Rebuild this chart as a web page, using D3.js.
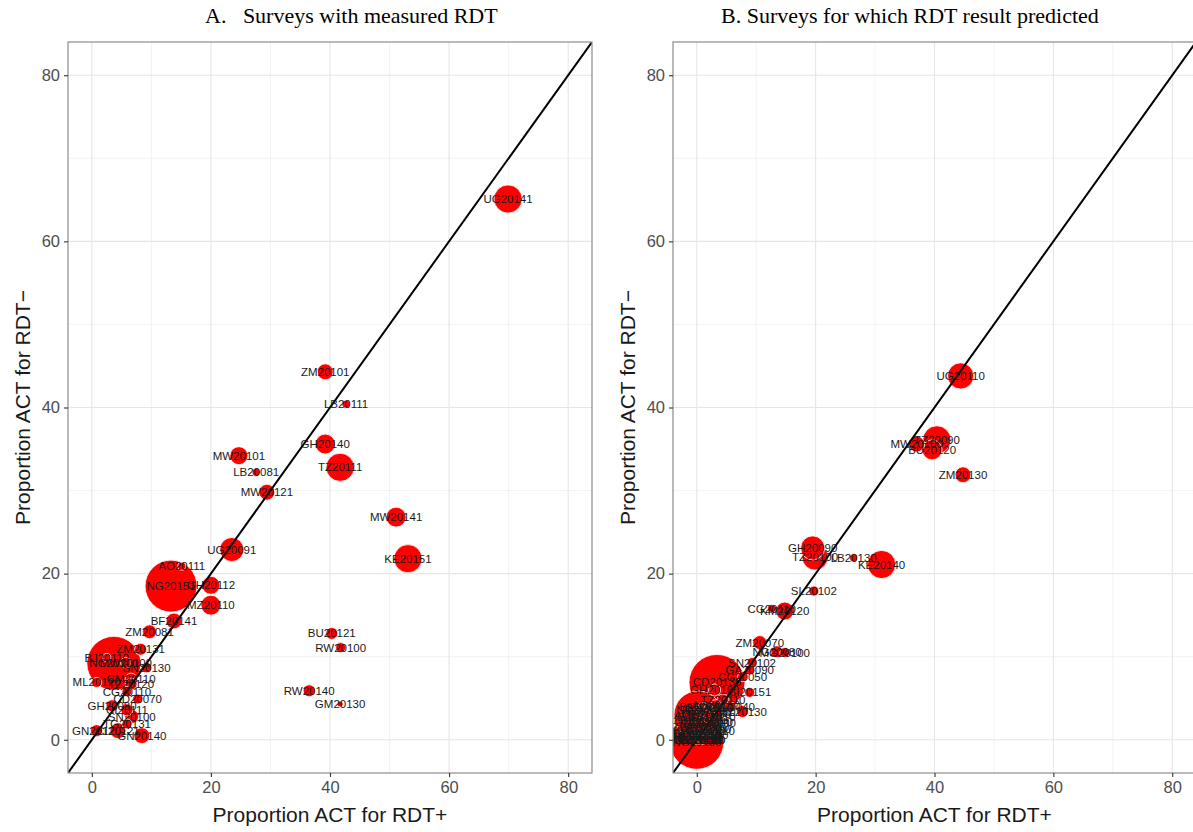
<!DOCTYPE html>
<html>
<head>
<meta charset="utf-8">
<script src="https://cdn.jsdelivr.net/npm/d3@7"></script>
<style>
  body { margin: 0; background: #fff; }
  svg { display: block; }
</style>
</head>
<body>
<div id="chart"></div>
<script>
// Panel A: surveys with measured RDT
const labelsA = ["UG20141","ZM20101","LB20111","GH20140","TZ20111","MW20101","LB20081","MW20121",
  "MW20141","KE20151","UG20091","AO20111","NG20151","GH20112","MZ20110","BF20141","ZM20081",
  "ZM20131","BU20121","RW20100","RW20140","GM20130","BJ20110","NG20100","MW20100","SN20130",
  "CM20110","ML20120","TZ20120","CG20110","CD20070","GH20080","CI20111","SN20100","TG20131",
  "GN20120","CI20121","GN20140"]
const xA = [69.9,39.2,42.7,39.2,41.7,24.7,27.6,29.4,51.1,53.1,23.5,15.1,13.3,20.0,20.0,13.8,9.7,
  8.2,40.3,41.8,36.5,41.7,2.5,3.7,5.7,9.2,6.6,0.8,6.6,5.9,7.7,3.4,5.9,6.7,5.9,0.8,4.4,8.4]
const yA = [65.1,44.3,40.4,35.6,32.8,34.2,32.2,29.8,26.8,21.8,22.9,20.9,18.5,18.6,16.2,14.3,13.0,
  10.9,12.8,11.1,5.9,4.3,9.9,9.2,9.3,8.7,7.3,6.9,6.7,5.8,4.9,4.1,3.6,2.8,1.9,1.1,1.1,0.5]
const nA = [22,7,1.8,11,22,9,1.8,7,11,22,16,1.8,75,9,11,7,5.4,4,4,2.8,4,1,1.8,81,3,3,4,2.8,4,
  2.8,2.8,4,4,5.4,2.8,4,7,7]

// Panel B: surveys for which RDT result predicted
const labelsB = ["UG20110","TZ20090","MW20100","BU20120","ZM20130","GH20090","TZ20100","LB20130",
  "KE20140","SL20102","CG20110","KM20120","ZM20070","NG20080","MG20100","SN20102","GA20090",
  "CG20050","CD20130","GH20100","CI20151","TZ20110","CM20040","MZ20130","AO20110","NG20130",
  "BJ20120","ET20110","GN20120","CD20140","ZW20100","SN20110","MW20120","LR20110","ML20130",
  "BI20100","TG20140","GM20130","CF20100","SZ20070","ER20100","KM20130","AO20150",
  "BF20100","GH20110","NE20120","MR20090","TD20100","CI20080","ST20090","GW20100","SO20110",
  "GQ20110","DJ20120","BJ20060"]
const xB = [44.4,40.4,37.0,39.6,44.8,19.5,19.9,26.4,31.1,19.7,12.6,14.8,10.6,13.5,14.8,9.3,8.9,
  7.7,3.4,3.0,8.9,4.4,5.6,7.7,0.2,0.0,0.5,2.7,0.3,2.0,0.0,1.5,0.0,1.0,0.0,0.5,0.0,0.2,0.0,0.8,
  1.2,2.4,3.2,1.0,2.0,0.6,1.6,2.6,0.8,1.9,0.3,1.3,2.3,0.5,1.0]
const yB = [43.8,36.1,35.6,34.9,31.9,23.1,22.0,21.9,21.1,17.9,15.8,15.5,11.7,10.6,10.5,9.3,8.4,
  7.6,6.9,6.0,5.7,4.8,4.0,3.4,3.0,-0.3,2.8,2.8,2.2,2.2,1.6,1.6,1.0,1.0,0.4,0.4,0.0,0.0,0.0,0.0,
  2.4,3.4,4.2,4.0,3.8,3.6,3.1,2.0,1.9,1.3,0.8,0.6,1.0,0.2,0.0]
const nB = [19,22,7,11,7,16,19,1.8,22,2.8,1.8,9,5.4,4,2.8,2.8,2.8,2.8,87,4,2.8,4,2.8,4,64,81,
  2,2,2,3,2,2,3,2,2,2,2,2,2,2,2,3,3,2,2,2,2,2,2,2,2,2,2,2,2]

const ticks = [0, 20, 40, 60, 80]
const minorTicks = [10, 30, 50, 70]

const width = 1193
const height = 832

const svg = d3.select("#chart").append("svg")
  .attr("width", width)
  .attr("height", height)

svg.append("rect").attr("width", width).attr("height", height).attr("fill", "#fff")

const y = d3.scaleLinear().domain([-4, 84]).range([773, 42])
const r = d3.scaleSqrt().domain([0, 100]).range([0, 30])

drawPanel("a", d3.scaleLinear().domain([-4, 84]).range([68, 592]),
  labelsA, xA, yA, nA, "A.\u00a0\u00a0\u00a0Surveys with measured RDT", 205)
drawPanel("b", d3.scaleLinear().domain([-4, 84]).range([673, 1196]),
  labelsB, xB, yB, nB, "B. Surveys for which RDT result predicted", 721)

function drawPanel(id, x, labels, xs, ys, ns, title, titleX) {
  const [x0, x1] = x.range()
  const [y0, y1] = y.range()

  svg.append("clipPath").attr("id", "clip-" + id)
    .append("rect")
    .attr("x", x0).attr("y", y1)
    .attr("width", x1 - x0).attr("height", y0 - y1)

  const g = svg.append("g")

  // grid
  const grid = g.append("g")
  grid.selectAll(".vminor").data(minorTicks).join("line")
    .attr("x1", d => x(d)).attr("x2", d => x(d))
    .attr("y1", y1).attr("y2", y0)
    .attr("stroke", "#ebebeb").attr("stroke-width", 0.6)
  grid.selectAll(".hminor").data(minorTicks).join("line")
    .attr("y1", d => y(d)).attr("y2", d => y(d))
    .attr("x1", x0).attr("x2", x1)
    .attr("stroke", "#ebebeb").attr("stroke-width", 0.6)
  grid.selectAll(".vmajor").data(ticks).join("line")
    .attr("x1", d => x(d)).attr("x2", d => x(d))
    .attr("y1", y1).attr("y2", y0)
    .attr("stroke", "#e6e6e6").attr("stroke-width", 1.1)
  grid.selectAll(".hmajor").data(ticks).join("line")
    .attr("y1", d => y(d)).attr("y2", d => y(d))
    .attr("x1", x0).attr("x2", x1)
    .attr("stroke", "#e6e6e6").attr("stroke-width", 1.1)

  const rows = labels.map((l, i) => ({label: l, x: xs[i], y: ys[i], n: ns[i]}))
  const sorted = rows.slice().sort((a, b) => b.n - a.n)

  const plot = g.append("g").attr("clip-path", "url(#clip-" + id + ")")

  plot.selectAll("circle").data(sorted).join("circle")
    .attr("cx", d => x(d.x))
    .attr("cy", d => y(d.y))
    .attr("r", d => r(d.n))
    .attr("fill", "#ff0000")
    .attr("stroke", "#fff")
    .attr("stroke-width", 0.8)

  // y = x reference line
  plot.append("line")
    .attr("x1", x(-4)).attr("y1", y(-4))
    .attr("x2", x(84)).attr("y2", y(84))
    .attr("stroke", "#000").attr("stroke-width", 2)

  plot.selectAll("text").data(rows).join("text")
    .attr("x", d => x(d.x))
    .attr("y", d => y(d.y))
    .attr("dy", "0.35em")
    .attr("text-anchor", "middle")
    .attr("font-family", "Liberation Sans, Arial, sans-serif")
    .attr("font-size", 11.5)
    .attr("fill", "#1a1a1a")
    .text(d => d.label)

  // panel border
  g.append("rect")
    .attr("x", x0).attr("y", y1)
    .attr("width", x1 - x0).attr("height", y0 - y1)
    .attr("fill", "none").attr("stroke", "#8c8c8c").attr("stroke-width", 1.2)

  // axes
  const xAxis = g.append("g")
    .attr("transform", `translate(0,${y0})`)
    .call(d3.axisBottom(x).tickValues(ticks).tickSize(4).tickPadding(4))
  const yAxis = g.append("g")
    .attr("transform", `translate(${x0},0)`)
    .call(d3.axisLeft(y).tickValues(ticks).tickSize(4).tickPadding(4))
  for (const ax of [xAxis, yAxis]) {
    ax.select(".domain").remove()
    ax.selectAll(".tick line").attr("stroke", "#333").attr("stroke-width", 1.1)
    ax.selectAll(".tick text")
      .attr("font-family", "Liberation Sans, Arial, sans-serif")
      .attr("font-size", 16.5)
      .attr("fill", "#4d4d4d")
  }

  // axis titles
  g.append("text")
    .attr("x", (x0 + x1) / 2).attr("y", 822)
    .attr("text-anchor", "middle")
    .attr("font-family", "Liberation Sans, Arial, sans-serif")
    .attr("font-size", 21)
    .attr("fill", "#1a1a1a")
    .text("Proportion ACT for RDT+")
  g.append("text")
    .attr("transform", `translate(${x0 - 38},${(y0 + y1) / 2}) rotate(-90)`)
    .attr("text-anchor", "middle")
    .attr("font-family", "Liberation Sans, Arial, sans-serif")
    .attr("font-size", 21)
    .attr("fill", "#1a1a1a")
    .text("Proportion ACT for RDT\u2212")

  // panel title
  g.append("text")
    .attr("x", titleX).attr("y", 23)
    .attr("font-family", "Liberation Serif, Times New Roman, serif")
    .attr("font-size", 22)
    .attr("fill", "#000")
    .text(title)
}
</script>
</body>
</html>
